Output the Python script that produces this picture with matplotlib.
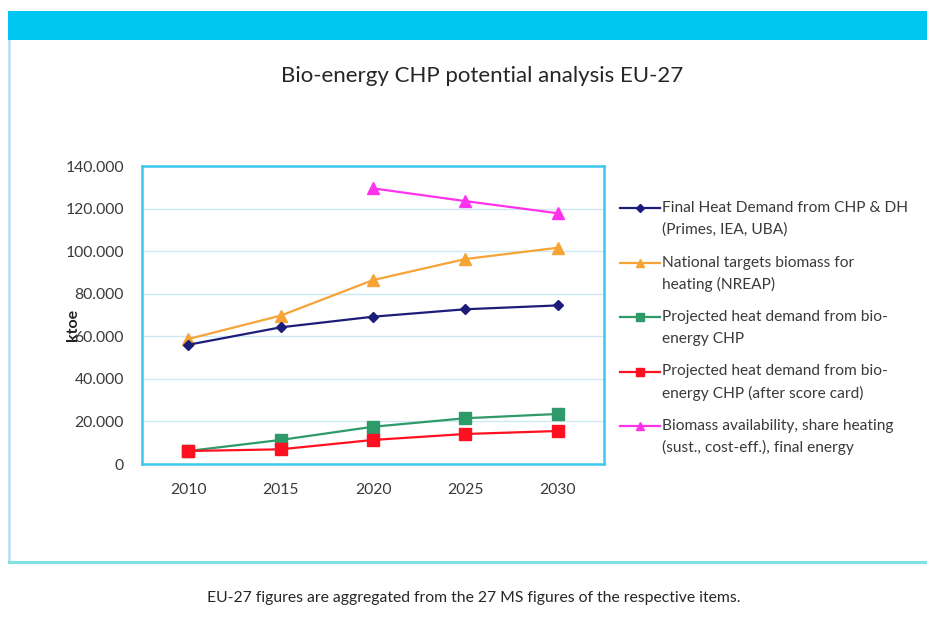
import matplotlib
matplotlib.use("Agg")
import matplotlib.pyplot as plt
from matplotlib.patches import Rectangle
from matplotlib.lines import Line2D
from matplotlib.ticker import FuncFormatter, MultipleLocator

plt.rcParams['font.family'] = ['Lato', 'DejaVu Sans']

years = ["2010", "2015", "2020", "2025", "2030"]
final_heat_demand = [56000, 64200, 69200, 72700, 74500]
national_targets = [58700, 69700, 86400, 96300, 101600]
projected_chp = [6100, 11300, 17500, 21500, 23500]
projected_chp_score = [6100, 6900, 11300, 14100, 15500]
biomass_avail = [None, None, 129500, 123500, 117800]

labels = [
    "Final Heat Demand from CHP & DH\n(Primes, IEA, UBA)",
    "National targets biomass for\nheating (NREAP)",
    "Projected heat demand from bio-\nenergy CHP",
    "Projected heat demand from bio-\nenergy CHP (after score card)",
    "Biomass availability, share heating\n(sust., cost-eff.), final energy",
]
title = "Bio-energy CHP potential analysis EU-27"
footnote = "EU-27 figures are aggregated from the 27 MS figures of the respective items."
y_label = "ktoe"

fig = plt.figure(figsize=(9.28, 6.17), dpi=100)
W, H = 928, 617

def fx(px):
    return px / W

def fy(py):
    return 1 - py / H

# frame
fig.add_artist(Rectangle((fx(8), fy(562)), fx(928 - 8) + 0.01, fy(40) - fy(562),
                         transform=fig.transFigure, facecolor='white',
                         edgecolor='none', zorder=0))
fig.add_artist(Line2D([fx(9), fx(9)], [fy(40), fy(562)], transform=fig.transFigure,
                      color='#bfe0f0', lw=2.0, zorder=1))
fig.add_artist(Line2D([fx(9), 1], [fy(562), fy(562)], transform=fig.transFigure,
                      color='#7fe3e6', lw=2.2, zorder=1))
fig.add_artist(Rectangle((fx(8), fy(40)), 1, fy(11) - fy(40),
                         transform=fig.transFigure, facecolor='#00c6f2',
                         edgecolor='none', zorder=1))

fig.text(fx(482), fy(76), title, ha='center', va='center', fontsize=16, color='#262626')
fig.text(fx(474), fy(598), footnote, ha='center', va='center', fontsize=11.3, color='#262626')

ax = fig.add_axes([fx(142), fy(464), fx(604) - fx(142), fy(166) - fy(464)])
x = list(range(len(years)))

styles = [
    dict(color='#1c1c7a', marker='D', markersize=5.5),
    dict(color='#f5a435', marker='^', markersize=8),
    dict(color='#2e9a6a', marker='s', markersize=8),
    dict(color='#ff1020', marker='s', markersize=8.5),
    dict(color='#ff33ee', marker='^', markersize=8),
]
series = [final_heat_demand, national_targets, projected_chp, projected_chp_score, biomass_avail]
zorders = [5, 4, 4, 5, 4]

for vals, st, z in zip(series, styles, zorders):
    xs = [i for i, v in zip(x, vals) if v is not None]
    vs = [v for v in vals if v is not None]
    ax.plot(xs, vs, lw=1.6, zorder=z, **st)

ax.set_xlim(-0.5, len(years) - 0.5)
ax.set_ylim(0, 140000)
ax.set_xticks(x)
ax.set_xticklabels(years)
ax.yaxis.set_major_locator(MultipleLocator(20000))
ax.yaxis.set_major_formatter(FuncFormatter(lambda v, p: f"{int(v):,}".replace(",", ".")))
ax.tick_params(axis='y', length=0, pad=13, labelsize=11.3, labelcolor='#3a3a3a')
ax.tick_params(axis='x', length=0, pad=14, labelsize=11.3, labelcolor='#3a3a3a')
ax.grid(axis='y', color='#cde9f5', lw=1)
ax.set_axisbelow(True)
for s in ax.spines.values():
    s.set_color('#3cc8ec')
    s.set_linewidth(1.8)

# y-axis title (overlaps the 60.000 tick label, as in the reference)
fig.text(fx(73), fy(325), y_label, rotation=90, ha='center', va='center',
         fontsize=11.5, fontweight='bold', color='#222222', zorder=6)

# legend (handle aligned with first text line, as in the reference)
y0, step, lgap = 208, 54.5, 21.5
for k, (lab, st) in enumerate(zip(labels, styles)):
    yc = y0 + k * step
    ms = st['markersize'] * 0.75
    fig.add_artist(Line2D([fx(620), fx(660)], [fy(yc), fy(yc)], transform=fig.transFigure,
                          color=st['color'], lw=1.6))
    fig.add_artist(Line2D([fx(640)], [fy(yc)], transform=fig.transFigure,
                          color=st['color'], marker=st['marker'], markersize=ms, lw=0))
    for j, line in enumerate(lab.split("\n")):
        fig.text(fx(662), fy(yc + j * lgap), line, ha='left', va='center',
                 fontsize=11.2, color='#3a3a3a')

fig.savefig("out.png", dpi=100)
